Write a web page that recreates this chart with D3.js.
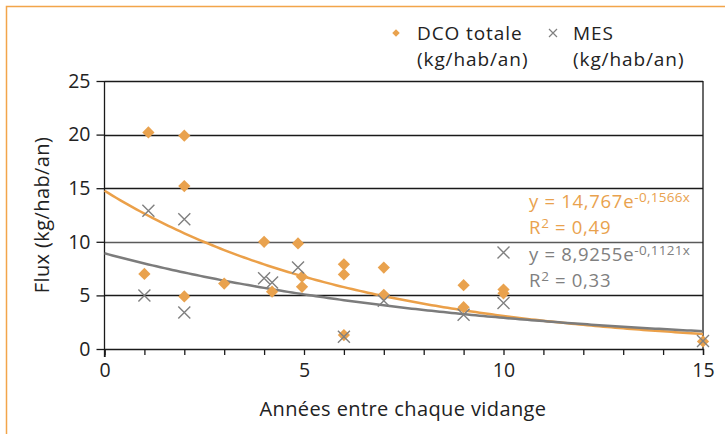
<!DOCTYPE html>
<html><head><meta charset="utf-8">
<script src="https://cdn.jsdelivr.net/npm/d3@7"></script>
<style>
body{margin:0;background:#fff;}
text{font-family:"Open Sans",Lato,sans-serif;}
</style></head><body>
<svg id="c" width="725" height="434"></svg>
<script>
// Data
const dcoX = [1.1, 2, 2, 1, 2, 3, 4, 4.2, 4.85, 4.95, 4.95, 6, 6, 6, 7, 7, 9, 9, 10, 10, 15];
const dcoY = [20.2, 19.9, 15.2, 7.0, 4.9, 6.1, 10.0, 5.35, 9.85, 6.75, 5.8, 7.9, 6.95, 1.3, 7.6, 5.05, 5.95, 3.9, 5.55, 5.2, 0.7];
const mesX = [1.1, 2, 1, 2, 4, 4.2, 4.85, 6, 7, 9, 10, 10, 15];
const mesY = [12.9, 12.1, 5.0, 3.4, 6.6, 6.2, 7.6, 1.15, 4.5, 3.2, 9.0, 4.3, 0.75];
const dcoFit = {a: 14.767, b: -0.1566};
const mesFit = {a: 8.9255, b: -0.1121};
const xTicks = [0, 5, 10, 15];
const yTicks = [0, 5, 10, 15, 20, 25];
const seriesNames = ["DCO totale", "MES"];
const unit = "(kg/hab/an)";

const ORANGE = "#E9A24E", GRAY = "#808080", LINE_OR = "#EBA049";
const FONT = "'Open Sans',Lato,sans-serif";
const svg = d3.select("#c");

// frame
svg.append("rect").attr("x",6.5).attr("y",6.5).attr("width",730).attr("height",440)
  .attr("fill","none").attr("stroke","#F2A54A").attr("stroke-width",1.5);

const x = d3.scaleLinear().domain([0,15]).range([104.5,703]);
const y = d3.scaleLinear().domain([0,25]).range([349,81]);

// gridlines
svg.append("g").selectAll("line").data(yTicks.filter(d=>d>0)).join("line")
  .attr("x1",x(0)).attr("x2",x(15)).attr("y1",d=>Math.round(y(d))+0.5).attr("y2",d=>Math.round(y(d))+0.5)
  .attr("stroke",d=>d===10?"#5a5a5a":"#1a1a1a").attr("stroke-width",1.3);
// right border
svg.append("line").attr("x1",x(15)).attr("x2",x(15)).attr("y1",y(25)).attr("y2",y(0))
  .attr("stroke","#1a1a1a").attr("stroke-width",1.3);

// axes
const yAxis = d3.axisLeft(y).tickValues(yTicks).tickSize(8).tickPadding(6);
const gy = svg.append("g").attr("transform",`translate(${x(0)},0)`).call(yAxis);
const xAxis = d3.axisBottom(x).tickValues(d3.range(0,16,1)).tickSize(6).tickPadding(8)
  .tickFormat(d=>xTicks.includes(d)?d:"");
const gx = svg.append("g").attr("transform",`translate(0,${y(0)})`).call(xAxis);
[gx,gy].forEach(g=>{
  g.select(".domain").attr("stroke","#1a1a1a").attr("stroke-width",1.3);
  g.selectAll(".tick line").attr("stroke","#1a1a1a").attr("stroke-width",1.3);
  g.selectAll("text").attr("fill","#222").style("font-size","19.5px").style("font-family",FONT);
});
gx.selectAll(".tick").filter(d=>d===0).select("line").attr("y2",8);
gy.select(".domain").attr("d",`M-0,${y(25)}V${y(0)+8}`);

// axis titles
svg.append("text").attr("x",403).attr("y",416).attr("text-anchor","middle")
  .attr("fill","#222").style("font-size","20px").style("letter-spacing","0.4px").text("Années entre chaque vidange");
svg.append("text").attr("transform","translate(49,215) rotate(-90)").attr("text-anchor","middle")
  .attr("fill","#222").style("font-size","20px").style("letter-spacing","0.4px").text("Flux (kg/hab/an)");

// trend lines
const xs = d3.range(0,15.001,0.1);
const line = fit => d3.line().x(d=>x(d)).y(d=>y(fit.a*Math.exp(fit.b*d)))(xs);
svg.append("path").attr("d",line(dcoFit)).attr("fill","none").attr("stroke",LINE_OR).attr("stroke-width",2.5);
svg.append("path").attr("d",line(mesFit)).attr("fill","none").attr("stroke","#7c7c7c").attr("stroke-width",2.5);

// markers
svg.append("g").selectAll("path").data(dcoX.map((v,i)=>[v,dcoY[i]])).join("path")
  .attr("transform",d=>`translate(${x(d[0])},${y(d[1])}) rotate(45)`)
  .attr("d",d3.symbol().type(d3.symbolSquare).size(75)).attr("fill",ORANGE);
const cs = 6;
svg.append("g").selectAll("path").data(mesX.map((v,i)=>[v,mesY[i]])).join("path")
  .attr("d",d=>{const cx=x(d[0]),cy=y(d[1]);return `M${cx-cs},${cy-cs}L${cx+cs},${cy+cs}M${cx-cs},${cy+cs}L${cx+cs},${cy-cs}`;})
  .attr("stroke",GRAY).attr("stroke-width",1.4).attr("fill","none");

// equations
function eq(xp, yb, a, b, r2, col){
  const t = svg.append("text").attr("x",xp).attr("y",yb).attr("fill",col)
    .style("font-size","18.5px").style("letter-spacing","0.7px");
  t.append("tspan").text(`y = ${a}e`);
  t.append("tspan").attr("dy",-6).style("font-size","13.5px").style("letter-spacing","0.3px").text(b);
  t.append("tspan").attr("x",xp).attr("dy",32).text("R");
  t.append("tspan").attr("dy",-6).style("font-size","13.5px").text("2");
  t.append("tspan").attr("dy",6).text("\u00a0= " + r2);
}
eq(529, 208, "14,767", "-0,1566x", "0,49", "#E9A24E");
eq(529, 261, "8,9255", "-0,1121x", "0,33", "#808080");

// legend
svg.append("path").attr("transform","translate(396,33) rotate(45)")
  .attr("d",d3.symbol().type(d3.symbolSquare).size(28)).attr("fill",ORANGE);
svg.append("path").attr("d","M549,29L557,37M549,37L557,29").attr("stroke",GRAY).attr("stroke-width",1.2);
const lg = [[417, seriesNames[0]],[573, seriesNames[1]]];
lg.forEach(([lx,name])=>{
  const t = svg.append("text").attr("x",lx).attr("y",40).attr("fill","#222")
    .style("font-size","19px").style("letter-spacing","0.9px");
  t.append("tspan").text(name);
  t.append("tspan").attr("x",lx).attr("dy",26).text(unit);
});
</script>
</body></html>
